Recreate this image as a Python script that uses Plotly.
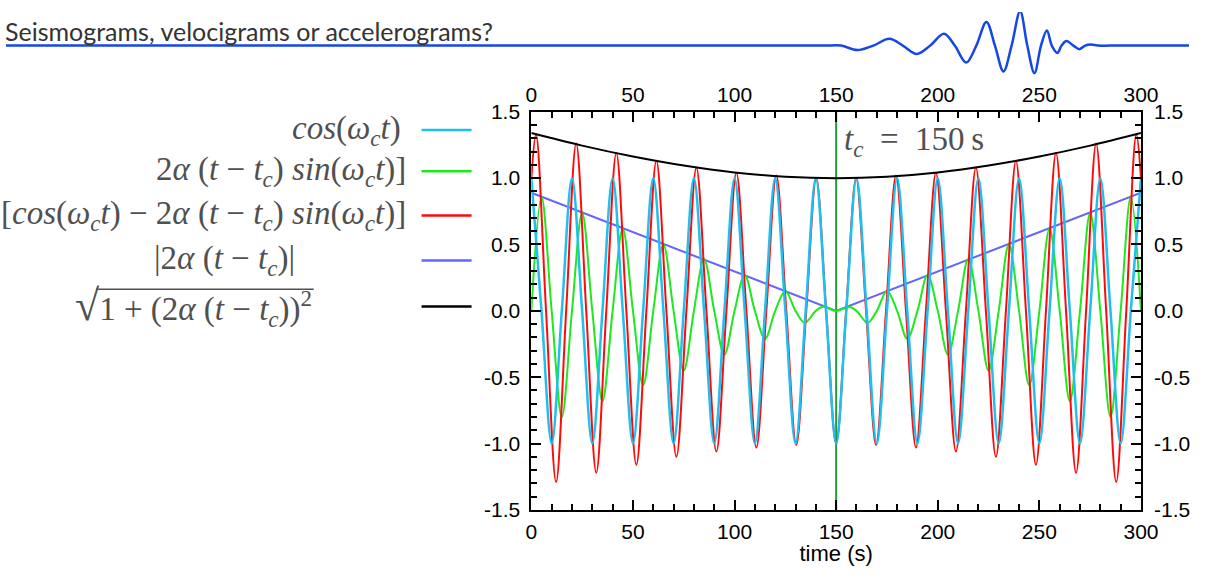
import plotly.graph_objects as go

# page is 1223x582; the figure sits inside the default 8px body margin
PAGE_W, PAGE_H = 1223, 582
OFF = 8
FW, FH = PAGE_W - 2 * OFF, PAGE_H - 2 * OFF

# ---- time axis and ticks -------------------------------------------------
T_MIN, T_MAX = 0, 300
Y_MIN, Y_MAX = -1.5, 1.5
T_C = 150
x_tick_vals = [0, 50, 100, 150, 200, 250, 300]
x_tick_text = ["0", "50", "100", "150", "200", "250", "300"]
y_tick_vals = [-1.5, -1.0, -0.5, 0.0, 0.5, 1.0, 1.5]
y_tick_text = ["-1.5", "-1.0", "-0.5", "0.0", "0.5", "1.0", "1.5"]

# ---- cos(w_c t): extrema and zero crossings ------------------------------
cos_ext_t = [0, 10, 20, 30, 40, 50, 60, 70, 80, 90, 100, 110, 120, 130, 140,
             150, 160, 170, 180, 190, 200, 210, 220, 230, 240, 250, 260, 270,
             280, 290, 300]
cos_ext_v = [1, -1, 1, -1, 1, -1, 1, -1, 1, -1, 1, -1, 1, -1, 1,
             -1, 1, -1, 1, -1, 1, -1, 1, -1, 1, -1, 1, -1, 1, -1, 1]
cos_zero_t = [5, 15, 25, 35, 45, 55, 65, 75, 85, 95, 105, 115, 125, 135, 145,
              155, 165, 175, 185, 195, 205, 215, 225, 235, 245, 255, 265, 275,
              285, 295]

# ---- 2a(t-tc) sin(w_c t) term: extrema and zero crossings ----------------
sin_ext_t = [5, 15, 25, 35, 45, 55, 65, 75, 85, 95, 105, 115, 125, 134.5,
             143.5, 156.5, 165.5, 175, 185, 195, 205, 215, 225, 235, 245, 255,
             265, 275, 285, 295]
sin_ext_v = [0.86, -0.80, 0.74, -0.68, 0.62, -0.56, 0.50, -0.45, 0.39, -0.33,
             0.27, -0.21, 0.15, -0.09, 0.03, 0.03, -0.09, 0.15, -0.21, 0.27,
             -0.33, 0.39, -0.45, 0.50, -0.56, 0.62, -0.68, 0.74, -0.80, 0.86]
sin_zero_t = [0, 10, 20, 30, 40, 50, 60, 70, 80, 90, 100, 110, 120, 130, 140,
              150, 160, 170, 180, 190, 200, 210, 220, 230, 240, 250, 260, 270,
              280, 290, 300]

# ---- sum signal: extrema, zero crossings and end values ------------------
sum_ext_t = [2.29, 12.18, 22.07, 31.95, 41.82, 51.68, 61.54, 71.39, 81.23,
             91.07, 100.90, 110.73, 120.55, 130.37, 140.19, 150.0, 159.81,
             169.63, 179.45, 189.27, 199.10, 208.93, 218.77, 228.61, 238.46,
             248.32, 258.18, 268.05, 277.93, 287.82, 297.71]
sum_ext_v = [1.33, -1.29, 1.26, -1.22, 1.19, -1.16, 1.13, -1.10, 1.08, -1.06,
             1.04, -1.03, 1.02, -1.01, 1.00, -1.00, 1.00, -1.01, 1.02, -1.03,
             1.04, -1.06, 1.08, -1.10, 1.13, -1.16, 1.19, -1.22, 1.26, -1.29,
             1.33]
sum_zero_t = [7.24, 17.13, 27.01, 36.88, 46.75, 56.61, 66.46, 76.31, 86.15,
              95.99, 105.82, 115.64, 125.46, 135.28, 145.09, 154.91, 164.72,
              174.54, 184.36, 194.18, 204.01, 213.85, 223.69, 233.54, 243.39,
              253.25, 263.12, 272.99, 282.87, 292.76]
sum_end_t = [0, 300]
sum_end_v = [1.0, 1.0]

# ---- |2a(t-tc)| and sqrt(1+(2a(t-tc))^2) ---------------------------------
abs_t = [0, 150, 300]
abs_v = [0.89, 0.0, 0.89]
env_t = [0, 25, 50, 75, 100, 125, 150, 175, 200, 225, 250, 275, 300]
env_v = [1.34, 1.245, 1.163, 1.095, 1.043, 1.011, 1.0, 1.011, 1.043, 1.095,
         1.163, 1.245, 1.34]

# ---- header rule with a small wave train (page pixels) --------------------
rule_x = [6, 400, 830, 845, 860, 876.7, 893, 909.3, 923, 937.3, 951, 965, 976,
          987.7, 998, 1008.3, 1017, 1025.7, 1034, 1042.7, 1050, 1057.3, 1064,
          1070, 1075, 1080.7, 1085, 1090, 1097, 1103.3, 1109, 1115, 1122, 1135,
          1223]
rule_y = [43, 43, 43, 43, 43, 47.7, 43, 36, 43, 51.7, 43, 30.7, 43, 60.7, 43,
          18.3, 43, 70, 43, 7.3, 43, 71.7, 43, 27.3, 43, 50.7, 43, 38.3, 43,
          46.7, 43, 42, 43, 43, 43]

COL_COS = "#1fbff0"
COL_SIN = "#1ee81e"
COL_SUM = "#ff0a0a"
COL_ABS = "#6464ff"
COL_ENV = "#000000"
COL_TC = "#229a3a"
COL_RULE = "#1447e6"
FORMULA_GREY = "#505050"


def px(x):
    """page x pixel -> paper fraction"""
    return (x - OFF) / FW


def py(y):
    """page y pixel -> paper fraction"""
    return 1 - (y - OFF) / FH


def merge(*pairs):
    pts = []
    for ts, vs in pairs:
        pts.extend(zip(ts, vs))
    pts.sort(key=lambda p: p[0])
    return [p[0] for p in pts], [p[1] for p in pts]


cos_t, cos_v = merge((cos_ext_t, cos_ext_v), (cos_zero_t, [0] * len(cos_zero_t)))
sin_t, sin_v = merge((sin_ext_t, sin_ext_v), (sin_zero_t, [0] * len(sin_zero_t)))
sum_t, sum_v = merge((sum_ext_t, sum_ext_v), (sum_zero_t, [0] * len(sum_zero_t)),
                     (sum_end_t, sum_end_v))

fig = go.Figure()

# vertical marker at t_c
fig.add_trace(go.Scatter(x=[T_C, T_C], y=[Y_MIN, Y_MAX], mode="lines",
                         line=dict(color=COL_TC, width=2), showlegend=False,
                         hoverinfo="skip"))
fig.add_trace(go.Scatter(x=abs_t, y=abs_v, mode="lines",
                         line=dict(color=COL_ABS, width=2), showlegend=False))
fig.add_trace(go.Scatter(x=sin_t, y=sin_v, mode="lines",
                         line=dict(color=COL_SIN, width=2, shape="spline", smoothing=1),
                         showlegend=False))
fig.add_trace(go.Scatter(x=sum_t, y=sum_v, mode="lines",
                         line=dict(color=COL_SUM, width=2, shape="spline", smoothing=1),
                         showlegend=False))
fig.add_trace(go.Scatter(x=cos_t, y=cos_v, mode="lines",
                         line=dict(color=COL_COS, width=2.5, shape="spline", smoothing=1),
                         showlegend=False))
fig.add_trace(go.Scatter(x=env_t, y=env_v, mode="lines",
                         line=dict(color=COL_ENV, width=2, shape="spline", smoothing=1),
                         showlegend=False))

# carriers for the top and right tick axes
fig.add_trace(go.Scatter(x=[None], y=[None], xaxis="x2", yaxis="y",
                         showlegend=False, hoverinfo="skip"))
fig.add_trace(go.Scatter(x=[None], y=[None], xaxis="x", yaxis="y3",
                         showlegend=False, hoverinfo="skip"))

# header rule, drawn on an axis pair spanning the whole page in pixels
fig.add_trace(go.Scatter(x=rule_x, y=rule_y, xaxis="x3", yaxis="y4", mode="lines",
                         line=dict(color=COL_RULE, width=2.5, shape="spline", smoothing=1),
                         showlegend=False, hoverinfo="skip"))

x_dom = [px(544), px(1166)]
y_dom = [py(527), py(112)]
tick_font = dict(family="Liberation Sans, Arial, sans-serif", size=21, color="black")
label_font = dict(family="Liberation Sans, Arial, sans-serif", size=22, color="black")


def x_axis(standoff):
    return dict(range=[T_MIN, T_MAX], domain=x_dom, tickmode="array",
                tickvals=x_tick_vals, ticktext=x_tick_text, ticks="inside",
                ticklen=10, tickwidth=2, tickcolor="black", tickfont=tick_font,
                showgrid=False, zeroline=False, ticklabelstandoff=standoff,
                minor=dict(tickmode="linear", tick0=0, dtick=10, ticks="inside",
                           ticklen=6, tickwidth=1.5, tickcolor="black", showgrid=False))


def y_axis(standoff):
    return dict(range=[Y_MIN, Y_MAX], domain=y_dom, tickmode="array",
                tickvals=y_tick_vals, ticktext=y_tick_text, ticks="inside",
                ticklen=10, tickwidth=2, tickcolor="black", tickfont=tick_font,
                showgrid=False, zeroline=False, ticklabelstandoff=standoff,
                minor=dict(tickmode="linear", tick0=0, dtick=0.1, ticks="inside",
                           ticklen=6, tickwidth=1.5, tickcolor="black", showgrid=False))


fig.update_layout(
    width=FW, height=FH, autosize=False,
    margin=dict(l=0, r=0, t=0, b=0, pad=0),
    paper_bgcolor="white", plot_bgcolor="rgba(0,0,0,0)",
    showlegend=False,
    xaxis=dict(**x_axis(2), anchor="y", side="bottom", showline=True,
               linecolor="black", linewidth=2, mirror=True,
               title=dict(text="time (s)", font=label_font, standoff=0)),
    xaxis2=dict(**x_axis(5), anchor="y", side="top", overlaying="x"),
    yaxis=dict(**y_axis(5), anchor="x", side="left", showline=True,
               linecolor="black", linewidth=2, mirror=True),
    yaxis3=dict(**y_axis(12), anchor="x", side="right", overlaying="y"),
    xaxis3=dict(domain=[0, 1], range=[OFF, PAGE_W - OFF], visible=False, anchor="y4"),
    yaxis4=dict(domain=[0, 1], range=[PAGE_H - OFF, OFF], visible=False, anchor="x3"),
)

# page title
fig.add_annotation(text="Seismograms, velocigrams or accelerograms?",
                   x=px(5), y=py(28), xref="paper", yref="paper",
                   xanchor="left", yanchor="middle", showarrow=False,
                   font=dict(family="Lato, sans-serif", size=25, color="#333333"))

# formula key on the left
serif = "Liberation Serif, DejaVu Serif, serif"
wc = "<i>ω</i><sub><i>c</i></sub><i>t</i>"
ttc = "(<i>t</i> − <i>t</i><sub><i>c</i></sub>)"
key_labels = [
    f"<i>cos</i>({wc})",
    f"2<i>α</i> {ttc} <i>sin</i>({wc})]",
    f"[<i>cos</i>({wc}) − 2<i>α</i> {ttc} <i>sin</i>({wc})]",
    f"|2<i>α</i> {ttc}|",
    f"<span style='font-size:44px'>√</span>1 + (2<i>α</i> {ttc})<sup>2</sup>",
]
key_colors = [COL_COS, COL_SIN, COL_SUM, COL_ABS, COL_ENV]
key_right = [413, 418, 418, 305, 322]
key_rows = [131, 174, 220, 267, 315]
for lab, col, xr, yr in zip(key_labels, key_colors, key_right, key_rows):
    fig.add_annotation(text=lab, x=px(xr), y=py(yr), xref="paper", yref="paper",
                       xanchor="right", yanchor="middle", showarrow=False,
                       font=dict(family=serif, size=33, color=FORMULA_GREY))
    fig.add_shape(type="line", xref="paper", yref="paper",
                  x0=px(432), x1=px(483), y0=py(yr), y1=py(yr),
                  line=dict(color=col, width=2.5))

# vinculum of the square root
fig.add_shape(type="line", xref="paper", yref="paper",
              x0=px(100), x1=px(322), y0=py(297), y1=py(297),
              line=dict(color=FORMULA_GREY, width=1.5))

# t_c label
fig.add_annotation(text="<i>t</i><sub><i>c</i></sub>\u2002=\u2002150\u2009s",
                   x=px(861), y=py(143), xref="paper", yref="paper",
                   xanchor="left", yanchor="middle", showarrow=False,
                   font=dict(family=serif, size=33, color=FORMULA_GREY))

fig.write_html("out.html")
